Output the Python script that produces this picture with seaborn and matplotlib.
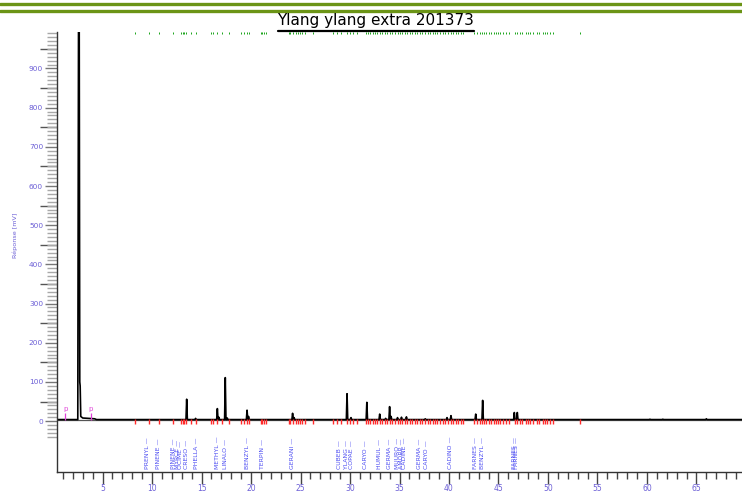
import numpy as np
import pandas as pd
import matplotlib
matplotlib.use("Agg")
import matplotlib.pyplot as plt
import seaborn as sns
from matplotlib.lines import Line2D
from matplotlib.ticker import FixedLocator

title = "Ylang ylang extra 201373"

# solvent front, read point by point (min, mV)
solvent_t = [0.4, 2.50, 2.58, 2.64, 2.70, 2.74, 2.80, 3.0, 3.6, 4.2, 4.4]
solvent_mv = [4, 4, 1100, 1100, 100, 90, 12, 8, 7, 6, 4]

# other peaks: retention time (min) and apex (mV)
peak_t = [13.5, 14.4, 16.6, 16.75, 17.4, 17.6, 19.6, 19.75, 24.2, 24.35,
          29.7, 30.1, 31.7, 33.0, 33.6, 34.0, 34.15, 34.8, 35.2, 35.7,
          37.6, 39.8, 40.2, 42.7, 43.4, 46.6, 46.9, 60.3, 61.6, 66.0]
peak_mv = [56, 7, 32, 10, 111, 8, 28, 12, 20, 9,
           70, 9, 48, 18, 7, 37, 12, 9, 10, 11,
           6, 9, 14, 18, 53, 22, 22, 5, 5, 6]

# integration marks (min)
mark_t = [8.3, 9.7, 10.7, 12.1, 12.9, 13.1, 13.2, 13.4, 13.9, 14.4, 16.0, 16.2,
          16.6, 17.1, 17.8, 19.0, 19.3, 19.6, 19.8, 21.0, 21.1, 21.3, 21.5,
          23.8, 23.9, 24.2, 24.5, 24.7, 24.9, 25.2, 25.5, 26.3, 28.3, 28.7,
          29.1, 29.7, 30.0, 30.3, 30.7, 31.6, 31.8, 32.0, 32.3, 32.5, 32.7,
          33.0, 33.2, 33.5, 33.7, 34.0, 34.2, 34.5, 34.8, 35.1, 35.3, 35.6,
          35.8, 36.1, 36.3, 36.6, 36.8, 37.1, 37.3, 37.6, 37.9, 38.1, 38.4,
          38.6, 38.8, 39.1, 39.4, 39.6, 39.9, 40.2, 40.4, 40.7, 40.9, 41.2,
          41.4, 42.5, 42.8, 43.1, 43.3, 43.5, 43.7, 44.0, 44.2, 44.5, 44.7,
          45.0, 45.2, 45.5, 45.8, 46.1, 46.7, 46.9, 47.2, 47.4, 47.8, 48.0,
          48.2, 48.5, 48.9, 49.1, 49.5, 49.7, 49.9, 50.2, 50.5, 53.2]

compounds = ["PRENYL", "PINENE", "PINENE", "MYRCE", "OCIME", "CRESO", "PHELLA",
             "METHYL", "LINALO", "BENZYL", "TERPIN", "GERANI", "CUBEB", "YLANG",
             "COPAE", "CARYO", "HUMUL", "GERMA", "MUURO", "AMORP", "CADINE",
             "GERMA", "CARYO", "CADINO", "FARNES", "BENZYL", "FARNES", "FARNES"]
compound_t = [9.5, 10.7, 12.2, 12.6, 12.9, 13.5, 14.5, 16.6, 17.4, 19.6, 21.2,
              24.2, 28.9, 29.6, 30.2, 31.6, 33.0, 34.0, 34.8, 35.2, 35.5, 37.0,
              37.7, 40.2, 42.7, 43.4, 46.6, 46.8]

p_marker_t = [1.25, 3.84]

baseline = 4
t_end = 69.6
label_blue = "#6c5fd6"

# build the trace from the read values
rows = list(zip(solvent_t, solvent_mv))
for t, h in zip(peak_t, peak_mv):
    rows += [(t - 0.07, baseline), (t, h), (t + 0.07, baseline)]
rows.append((t_end, baseline))
trace = pd.DataFrame(rows, columns=["time", "signal"]).sort_values("time")

sns.set_style("white")
plt.rcParams["font.family"] = ["DejaVu Sans"]

fig = plt.figure(figsize=(7.42, 4.93), dpi=100)
ax = fig.add_axes([57 / 742, 21.3 / 493, 685 / 742, 439.7 / 493])

sns.lineplot(data=trace, x="time", y="signal", ax=ax, color="black",
             lw=1.2, estimator=None, sort=False)
ax.axhline(baseline, color="#555555", lw=0.9, zorder=1)

# integration marks below the baseline and their echo on top
ax.vlines(mark_t, -7, 6, color="#ff2a2a", lw=1.0)
ax.vlines(mark_t, 987, 993, color="#1aa51a", lw=0.7, clip_on=False)

# start markers
ax.vlines(p_marker_t, baseline, 22, color="#e040d8", lw=0.9)
for t in p_marker_t:
    ax.text(t, 23, "p", color="#e040d8", fontsize=5, ha="center", va="bottom")

# compound names
for name, t in zip(compounds, compound_t):
    ax.text(t, -121, name + " \u2014", rotation=90, ha="center", va="bottom",
            fontsize=4.4, color="#4d4df2")

ax.set_xlim(0.4, t_end)
ax.set_ylim(-129, 993)
ax.set_xlabel("")
ax.set_ylabel("")

ax.xaxis.set_major_locator(FixedLocator(np.arange(5, 70, 5)))
ax.xaxis.set_minor_locator(FixedLocator(np.arange(1, 70, 1)))
ax.yaxis.set_major_locator(FixedLocator(np.arange(0, 1000, 100)))
ax.yaxis.set_minor_locator(FixedLocator(np.arange(-40, 1000, 10)))

ax.tick_params(axis="x", which="major", bottom=True, direction="out",
               length=8.3, width=1, color="#444444", labelsize=5.5,
               labelcolor=label_blue, pad=0.8)
ax.tick_params(axis="x", which="minor", bottom=True, direction="out",
               length=5, width=1, color="#444444")
ax.tick_params(axis="y", which="major", left=True, direction="out",
               length=8.6, width=1, color="#777777", labelsize=5.3,
               labelcolor=label_blue, pad=1.4)
ax.tick_params(axis="y", which="minor", left=True, direction="out",
               length=7.2, width=1, color="#a8a8a8")

# long ticks at the half hundreds
sec = ax.secondary_yaxis("left")
sec.set_yticks(np.arange(50, 1000, 100))
sec.tick_params(left=True, length=12.2, width=1, color="#555555",
                labelleft=False)
sec.spines["left"].set_visible(False)

for side in ["top", "right"]:
    ax.spines[side].set_visible(False)
for side in ["left", "bottom"]:
    ax.spines[side].set_color("#333333")
    ax.spines[side].set_linewidth(1)

fig.text(15 / 742, 1 - 235 / 493, "R\u00e9ponse [mV]", rotation=90,
         ha="center", va="center", fontsize=4.6, color=label_blue)

# page header: two green rules and the underlined title
fig.add_artist(Line2D([0, 1], [1 - 3.5 / 493] * 2, color="#6b9416", lw=2.4))
fig.add_artist(Line2D([0, 1], [1 - 10.5 / 493] * 2, color="#6b9416", lw=2.4))
ttl = fig.text(376 / 742, 1 - 21 / 493, title, ha="center", va="center",
               fontsize=11, color="black")
fig.canvas.draw()
bb = ttl.get_window_extent().transformed(fig.transFigure.inverted())
fig.add_artist(Line2D([bb.x0, bb.x1], [1 - 30.5 / 493] * 2, color="black",
                      lw=1.6))

fig.savefig("out.png", dpi=100)
